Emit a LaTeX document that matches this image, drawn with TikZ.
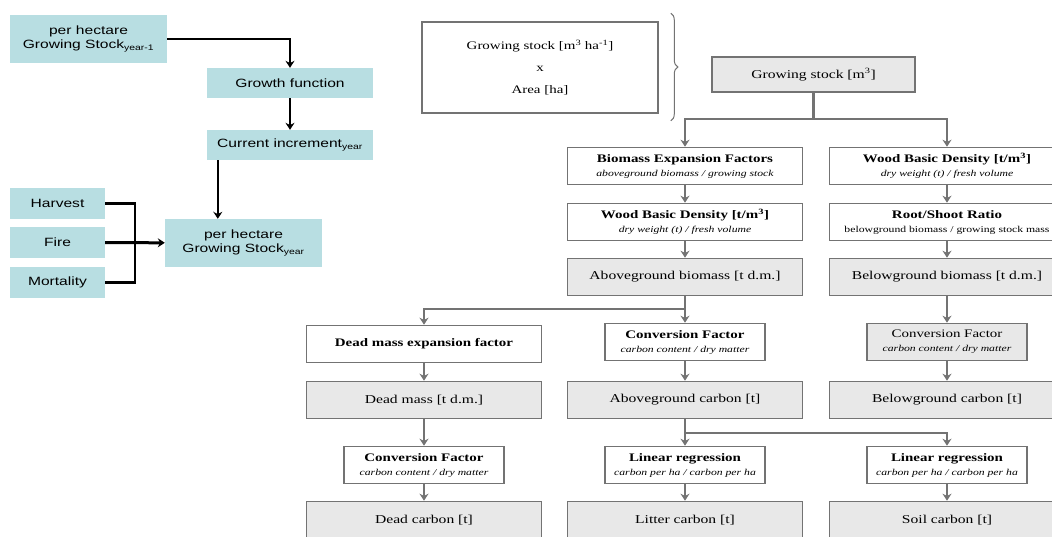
\documentclass[tikz,border=0pt]{standalone}
\usepackage{fontspec}
\setmainfont{Liberation Serif}[FakeStretch=1.3]
\setsansfont{Liberation Sans}[FakeStretch=1.3]
\usetikzlibrary{arrows.meta,decorations.pathreplacing}
\definecolor{lblue}{RGB}{184,222,226}
\definecolor{boxgray}{RGB}{232,232,232}
\definecolor{edgegray}{RGB}{115,115,115}
\newcommand\subtxt[1]{{\fontsize{9}{11}\selectfont\itshape #1}}
\tikzset{
  >={Stealth[length=7pt,width=9pt]},
  lbox/.style={fill=lblue,align=center,inner sep=1pt,minimum height=30pt,
    font=\sffamily\fontsize{12}{14}\selectfont},
  wbox/.style={draw=edgegray,line width=1.6pt,fill=white,align=center,
    inner sep=1pt,minimum width=235pt,minimum height=37pt,
    font=\fontsize{11.5}{14}\selectfont},
  gbox/.style={wbox,fill=boxgray,font=\fontsize{12}{14}\selectfont},
  facbox/.style={wbox,minimum width=160pt},
  flow/.style={->,draw=edgegray,line width=2.2pt},
  blk/.style={->,line width=2.4pt},
}
\begin{document}
\begin{tikzpicture}[x=1pt,y=-1pt]
  \useasboundingbox (0,0) rectangle (1052,536);
  % growing stock model
  \node[lbox,minimum width=157pt,minimum height=48pt] (gsprev) at (88.5,39) {per hectare\\Growing Stock\textsubscript{year-1}};
  \node[lbox,minimum width=166pt] (growth) at (290,83) {Growth function};
  \node[lbox,minimum width=166pt] (incr) at (290,145) {Current increment\textsubscript{year}};
  \node[lbox,minimum width=95pt,minimum height=31pt] (harvest) at (57.5,203.5) {Harvest};
  \node[lbox,minimum width=95pt,minimum height=31pt] (fire) at (57.5,242.5) {Fire};
  \node[lbox,minimum width=95pt,minimum height=31pt] (mort) at (57.5,282.5) {Mortality};
  \node[lbox,minimum width=157pt,minimum height=48pt] (gsyear) at (243.5,243) {per hectare\\Growing Stock\textsubscript{year}};
  \coordinate (mrg) at (135,243);
  \draw[blk] (gsprev.east) -| (growth.north);
  \draw[blk] (growth) -- (incr);
  \draw[blk] ([xshift=11pt]incr.south west) -- ([xshift=11pt]incr.south west |- gsyear.north);
  \draw[line width=2.4pt] (harvest.east) -| (mrg);
  \draw[line width=2.4pt] (mort.east) -| (mrg);
  \draw[blk,line width=3pt] (fire) -- (gsyear);

  % carbon stock chain
  \node[wbox,minimum width=236pt,minimum height=91pt] (gsarea) at (540,67.5) {Growing stock [m\textsuperscript{3} ha\textsuperscript{-1}]\\[8pt] x\\[8pt] Area [ha]};
  \draw[edgegray,line width=1pt,decorate,decoration={brace,amplitude=7pt}]
    ([xshift=12pt,yshift=8pt]gsarea.north east) -- ([xshift=12pt,yshift=-7pt]gsarea.south east);
  \node[gbox,minimum width=203pt,minimum height=35pt] (gsm3) at (813.5,74.5) {Growing stock [m\textsuperscript{3}]};

  \node[wbox] (bef) at (685,166) {\textbf{Biomass Expansion Factors}\\\subtxt{aboveground biomass / growing stock}};
  \node[wbox] (wbd1) at (685,222) {\textbf{Wood Basic Density [t/m\textsuperscript{3}]}\\\subtxt{dry weight (t) / fresh volume}};
  \node[gbox] (agb) at (685,277) {Aboveground biomass [t d.m.]};
  \node[wbox] (wbd2) at (947,166) {\textbf{Wood Basic Density [t/m\textsuperscript{3}]}\\\subtxt{dry weight (t) / fresh volume}};
  \node[wbox] (rsr) at (947,222) {\textbf{Root/Shoot Ratio}\\{\fontsize{9}{11}\selectfont belowground biomass / growing stock mass}};
  \node[gbox] (bgb) at (947,277) {Belowground biomass [t d.m.]};

  \node[wbox] (dmef) at (424,344) {\textbf{Dead mass expansion factor}};
  \node[facbox] (cf1) at (685,342) {\textbf{Conversion Factor}\\\subtxt{carbon content / dry matter}};
  \node[facbox,fill=boxgray] (cf2) at (947,342) {Conversion Factor\\\subtxt{carbon content / dry matter}};
  \node[gbox] (dm) at (424,400) {Dead mass [t d.m.]};
  \node[gbox] (agc) at (685,400) {Aboveground carbon [t]};
  \node[gbox] (bgc) at (947,400) {Belowground carbon [t]};

  \node[facbox] (cf0) at (424,465) {\textbf{Conversion Factor}\\\subtxt{carbon content / dry matter}};
  \node[facbox] (lr1) at (685,465) {\textbf{Linear regression}\\\subtxt{carbon per ha / carbon per ha}};
  \node[facbox] (lr2) at (947,465) {\textbf{Linear regression}\\\subtxt{carbon per ha / carbon per ha}};
  \node[gbox] (dc) at (424,520) {Dead carbon [t]};
  \node[gbox] (lc) at (685,520) {Litter carbon [t]};
  \node[gbox] (sc) at (947,520) {Soil carbon [t]};

  \coordinate (s1) at ([yshift=-26pt]gsm3.south);
  \coordinate (s2) at ([yshift=-13pt]agb.south);
  \coordinate (s3) at ([yshift=-14pt]agc.south);
  \draw[edgegray,line width=2.2pt] (gsm3.south) -- (s1);
  \draw[flow] (s1) -| (bef.north);
  \draw[flow] (s1) -| (wbd2.north);
  \draw[flow] (bef) -- (wbd1);
  \draw[flow] (wbd1) -- (agb);
  \draw[flow] (wbd2) -- (rsr);
  \draw[flow] (rsr) -- (bgb);
  \draw[flow] (agb) -- (cf1);
  \draw[flow] (s2) -| (dmef.north);
  \draw[flow] (bgb) -- (cf2);
  \draw[flow] (dmef) -- (dm);
  \draw[flow] (cf1) -- (agc);
  \draw[flow] (cf2) -- (bgc);
  \draw[flow] (dm) -- (cf0);
  \draw[flow] (agc) -- (lr1);
  \draw[flow] (s3) -| (lr2.north);
  \draw[flow] (cf0) -- (dc);
  \draw[flow] (lr1) -- (lc);
  \draw[flow] (lr2) -- (sc);
\end{tikzpicture}
\end{document}
